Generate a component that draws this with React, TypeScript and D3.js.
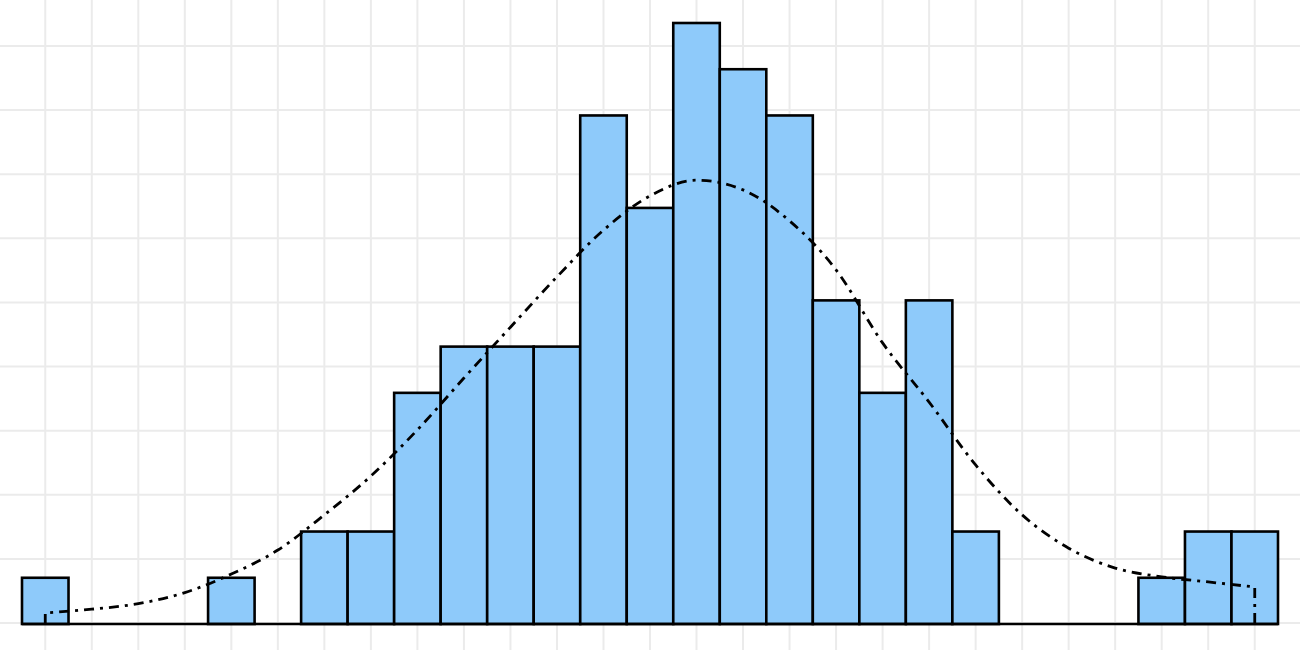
import React from "react";
import * as d3 from "d3";

// Histogram bin counts (27 equal-width bins)
const binCounts: number[] = [1, 0, 0, 0, 1, 0, 2, 2, 5, 6, 6, 6, 11, 9, 13, 12, 11, 7, 5, 7, 2, 0, 0, 0, 1, 2, 2];

// Fitted curve values (in count units) read at each bin centre
const curveValues: number[] = [
  0.24, 0.32, 0.44, 0.68, 1.08, 1.6, 2.36, 3.2, 4.2, 5.32, 6.42, 7.51, 8.52, 9.26,
  9.6, 9.39, 8.72, 7.66, 6.08, 4.8, 3.44, 2.36, 1.64, 1.21, 1.02, 0.91, 0.8,
];

// Background grid tick indices
const gridXTicks: number[] = d3.range(0, 28).map((i) => i + 0.5);
const gridYTicks: number[] = d3.range(0, 11);

const W = 1300;
const H = 650;

export default function App() {
  const x = d3.scaleLinear().domain([0, binCounts.length]).range([22, 1278]);
  const y = d3.scaleLinear().domain([0, 13]).range([624, 23]);
  const gy = d3.scaleLinear().domain([0, 9]).range([623, 46]);

  const pts: [number, number][] = curveValues.map((v, i) => [x(i + 0.5), y(v)]);
  const lineGen = d3.line<[number, number]>().curve(d3.curveMonotoneX);
  const inner = lineGen(pts) || "";
  const x0 = x(0.5);
  const xn = x(curveValues.length - 0.5);
  const curvePath = `M${x0},${y(0)}L` + inner.slice(1) + `L${xn},${y(0)}`;

  return (
    <svg
      width={W}
      height={H}
      style={{ position: "absolute", left: 0, top: 0, background: "#fff" }}
    >
      <g>
        {gridXTicks.map((t) => (
          <line key={"gx" + t} x1={x(t)} x2={x(t)} y1={0} y2={H} stroke="#ebebeb" strokeWidth={2} />
        ))}
        {gridYTicks.map((t) => (
          <line key={"gy" + t} x1={0} x2={W} y1={gy(t)} y2={gy(t)} stroke="#ebebeb" strokeWidth={2} />
        ))}
      </g>
      <g>
        {binCounts.map((c, i) =>
          c > 0 ? (
            <rect
              key={"b" + i}
              x={x(i)}
              y={y(c)}
              width={x(i + 1) - x(i)}
              height={y(0) - y(c)}
              fill="rgb(142,202,250)"
              stroke="#000"
              strokeWidth={2.6}
            />
          ) : null
        )}
      </g>
      <line x1={x(0)} x2={x(binCounts.length)} y1={y(0)} y2={y(0)} stroke="#000" strokeWidth={2.6} />
      <path
        d={curvePath}
        fill="none"
        stroke="#000"
        strokeWidth={2.8}
        strokeDasharray="10,6,3,6"
      />
    </svg>
  );
}
